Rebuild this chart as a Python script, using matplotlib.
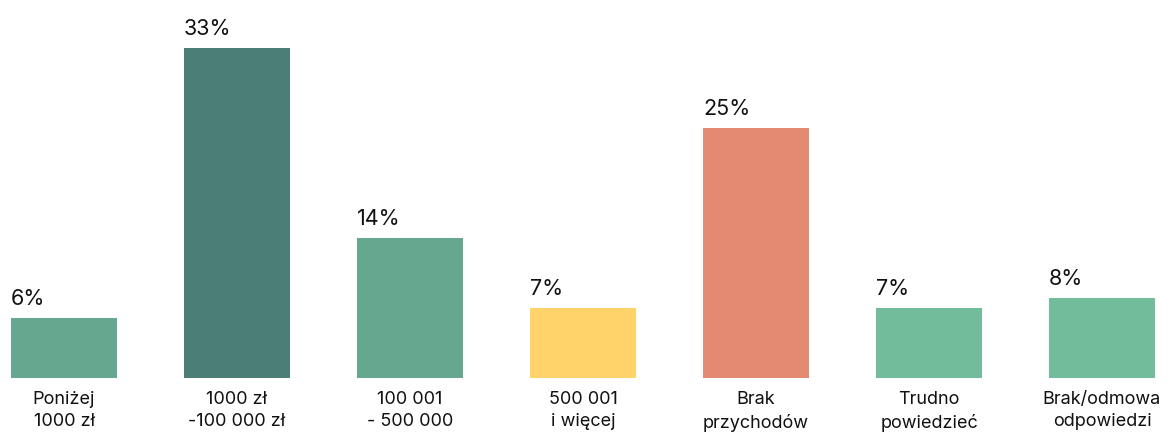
import matplotlib.pyplot as plt

categories = ["Poniżej\n1000 zł", "1000 zł\n-100 000 zł", "100 001\n- 500 000",
              "500 001\ni więcej", "Brak\nprzychodów", "Trudno\npowiedzieć",
              "Brak/odmowa\nodpowiedzi"]
values = [6, 33, 14, 7, 25, 7, 8]
colors = ["#66A88F", "#4B7E76", "#66A88F", "#FFD36A", "#E58A72", "#72BC9C", "#72BC9C"]

plt.rcParams["font.family"] = ["Inter", "DejaVu Sans"]

fig = plt.figure(figsize=(11.69, 4.32), dpi=100)
ax = fig.add_axes([0, 0, 1, 1])

width = 106 / 173
x = range(len(values))
ax.bar(x, values, width=width, color=colors)

for i, v in enumerate(values):
    ax.text(i - width / 2, v + 1.3, f"{v}%", ha="left", va="baseline",
            fontsize=15.5, color="#111111")
    ax.text(i, -1.3, categories[i], ha="center", va="top",
            fontsize=13, color="#111111", linespacing=1.4)

ax.set_xlim(-64 / 173, (1169 - 64) / 173)
ax.set_ylim(-5.4, 37.8)
ax.axis("off")

plt.savefig("out.png", dpi=100)
plt.close()
